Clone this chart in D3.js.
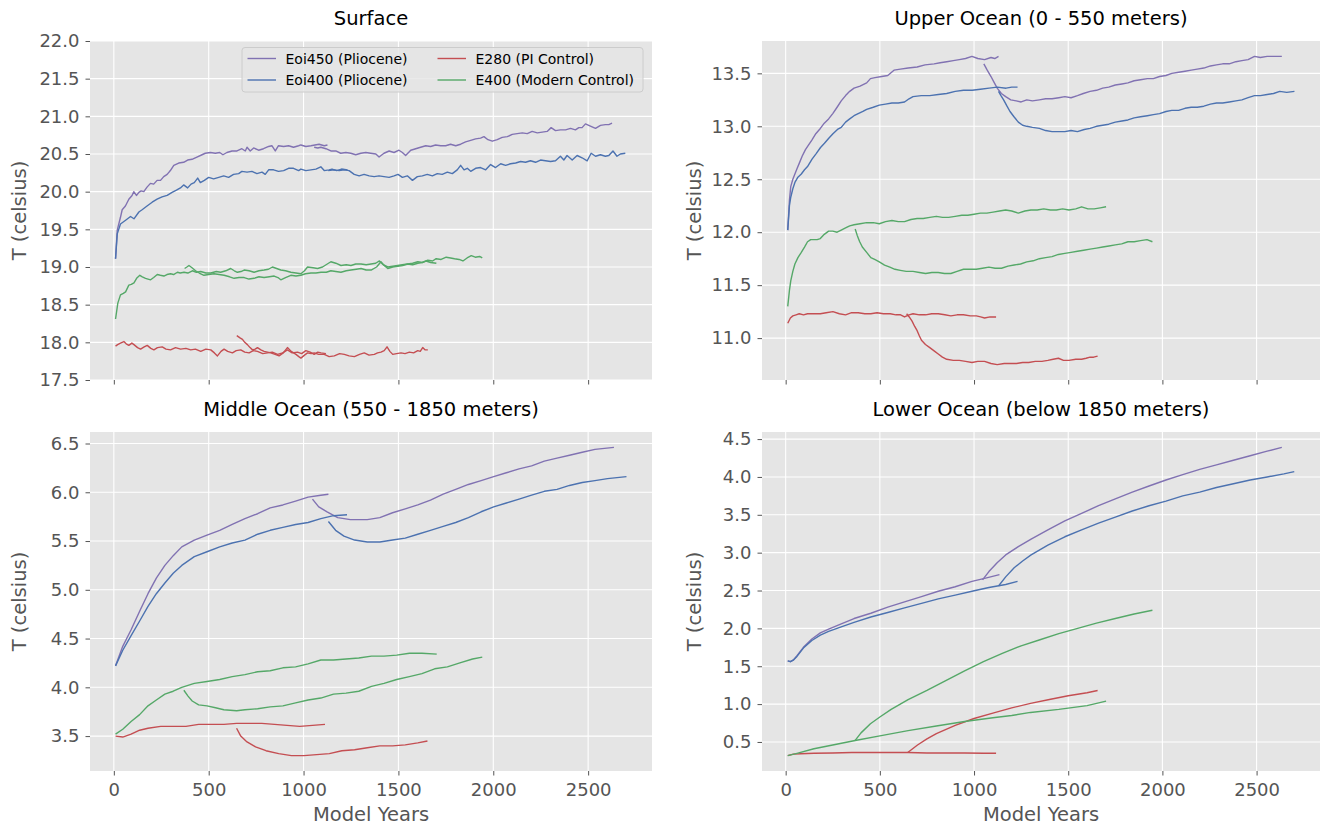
<!DOCTYPE html>
<html><head><meta charset="utf-8">
<script src="https://cdn.jsdelivr.net/npm/d3@7"></script>
<style>
body{margin:0;background:#fff;}
text{font-family:"DejaVu Sans",sans-serif;}
</style>
</head><body>
<svg id="chart" width="1325" height="827"></svg>
<script>
// ---------------- DATA ----------------
const experiments = ["Eoi450 (Pliocene)", "Eoi400 (Pliocene)", "E280 (PI Control)", "E400 (Modern Control)"];
const xTicks = [0, 500, 1000, 1500, 2000, 2500];
const surfaceTicks = [17.5, 18.0, 18.5, 19.0, 19.5, 20.0, 20.5, 21.0, 21.5, 22.0];
const upperTicks = [11.0, 11.5, 12.0, 12.5, 13.0, 13.5];
const middleTicks = [3.5, 4.0, 4.5, 5.0, 5.5, 6.0, 6.5];
const lowerTicks = [0.5, 1.0, 1.5, 2.0, 2.5, 3.0, 3.5, 4.0, 4.5];
const surfaceRange = [17.5, 22.0];

// Surface [model year, T]
const surf_Eoi450_a = [[9,19.11],[18,19.49],[35,19.66],[44,19.76],[61,19.81],[79,19.90],[96,19.95],[105,20.00],[119,19.95],[132,19.99],[144,20.01],[158,20.00],[175,20.06],[193,20.11],[210,20.10],[228,20.15],[246,20.15],[263,20.20],[281,20.23],[298,20.28],[316,20.35],[342,20.38],[368,20.39],[389,20.42],[412,20.43],[438,20.46],[465,20.49],[482,20.51],[509,20.52],[535,20.51],[558,20.52],[575,20.49],[596,20.52],[623,20.54],[649,20.54],[675,20.57],[693,20.54],[702,20.59],[719,20.54],[737,20.58],[763,20.55],[789,20.57],[816,20.60],[833,20.61],[851,20.54],[868,20.61],[895,20.60],[921,20.61],[947,20.59],[974,20.61],[986,20.62],[1012,20.60],[1039,20.61],[1060,20.62],[1082,20.63],[1109,20.61],[1126,20.62]];
const surf_Eoi450_b = [[1056,20.59],[1075,20.58],[1091,20.59],[1118,20.57],[1144,20.54],[1170,20.54],[1196,20.51],[1223,20.52],[1249,20.51],[1275,20.49],[1302,20.51],[1328,20.52],[1354,20.51],[1381,20.50],[1398,20.46],[1424,20.51],[1451,20.54],[1477,20.52],[1503,20.55],[1521,20.52],[1538,20.48],[1565,20.55],[1591,20.57],[1617,20.59],[1644,20.61],[1670,20.60],[1696,20.62],[1723,20.61],[1749,20.61],[1775,20.63],[1802,20.61],[1828,20.63],[1854,20.66],[1881,20.68],[1907,20.70],[1933,20.71],[1951,20.73],[1972,20.69],[1995,20.67],[2021,20.69],[2047,20.72],[2074,20.73],[2100,20.76],[2126,20.77],[2153,20.78],[2179,20.77],[2205,20.80],[2232,20.78],[2258,20.79],[2284,20.80],[2305,20.85],[2328,20.81],[2354,20.82],[2381,20.82],[2407,20.84],[2433,20.82],[2451,20.85],[2468,20.85],[2486,20.90],[2512,20.87],[2539,20.84],[2565,20.88],[2591,20.89],[2609,20.89],[2626,20.91]];
const surf_Eoi400_a = [[9,19.11],[18,19.44],[35,19.57],[62,19.62],[88,19.67],[106,19.64],[132,19.73],[149,19.76],[175,19.81],[202,19.86],[228,19.90],[254,19.93],[281,19.95],[307,19.99],[330,20.02],[351,20.05],[368,20.09],[389,20.05],[407,20.10],[424,20.12],[442,20.18],[456,20.12],[477,20.15],[500,20.19],[526,20.17],[553,20.19],[579,20.21],[605,20.19],[631,20.23],[658,20.24],[675,20.27],[702,20.26],[728,20.27],[754,20.24],[781,20.26],[798,20.23],[816,20.29],[842,20.29],[868,20.27],[895,20.28],[921,20.31],[947,20.31],[974,20.28],[986,20.30],[1012,20.28],[1039,20.29],[1065,20.30],[1091,20.33],[1109,20.28],[1135,20.29],[1150,20.30],[1175,20.28],[1200,20.30],[1232,20.29]];
const surf_Eoi400_b = [[1130,20.28],[1161,20.29],[1188,20.28],[1214,20.29],[1240,20.28],[1267,20.23],[1293,20.21],[1319,20.23],[1346,20.21],[1372,20.20],[1398,20.21],[1424,20.20],[1451,20.19],[1477,20.21],[1498,20.23],[1521,20.19],[1547,20.21],[1574,20.15],[1600,20.20],[1626,20.21],[1652,20.23],[1679,20.21],[1705,20.24],[1731,20.23],[1758,20.26],[1784,20.24],[1810,20.29],[1828,20.35],[1846,20.29],[1863,20.31],[1881,20.27],[1907,20.31],[1933,20.32],[1960,20.29],[1986,20.36],[2012,20.32],[2039,20.37],[2065,20.35],[2091,20.37],[2118,20.38],[2144,20.40],[2170,20.39],[2196,20.41],[2223,20.39],[2249,20.42],[2275,20.41],[2302,20.40],[2328,20.41],[2354,20.47],[2372,20.42],[2389,20.48],[2416,20.42],[2442,20.48],[2468,20.45],[2495,20.41],[2516,20.51],[2539,20.47],[2565,20.49],[2591,20.47],[2609,20.48],[2631,20.54],[2652,20.47],[2670,20.50],[2696,20.51]];
const surf_E280_a = [[9,17.95],[20,17.97],[35,17.99],[53,18.01],[65,17.98],[79,17.96],[95,17.99],[106,17.97],[125,17.93],[141,17.91],[160,17.94],[176,17.96],[195,17.92],[211,17.90],[230,17.93],[255,17.94],[275,17.91],[299,17.90],[325,17.93],[352,17.91],[380,17.92],[405,17.90],[430,17.91],[458,17.88],[485,17.91],[511,17.90],[530,17.86],[546,17.82],[565,17.88],[581,17.91],[600,17.88],[625,17.86],[645,17.89],[669,17.90],[690,17.87],[713,17.86],[735,17.89],[757,17.88],[785,17.85],[810,17.86],[835,17.87],[863,17.84],[890,17.86],[915,17.90],[940,17.86],[968,17.87],[990,17.85],[1012,17.89],[1035,17.87],[1056,17.84],[1075,17.87],[1092,17.86],[1118,17.85]];
const surf_E280_b = [[648,18.09],[665,18.06],[678,18.04],[690,18.00],[704,17.97],[718,17.93],[731,17.90],[745,17.91],[757,17.93],[775,17.90],[792,17.88],[810,17.87],[827,17.86],[850,17.84],[871,17.82],[893,17.86],[915,17.93],[935,17.88],[960,17.84],[975,17.81],[986,17.79],[1005,17.83],[1021,17.86],[1040,17.85],[1056,17.86],[1080,17.84],[1109,17.84],[1135,17.81],[1162,17.82],[1190,17.85],[1215,17.84],[1240,17.82],[1268,17.81],[1295,17.84],[1320,17.86],[1345,17.83],[1373,17.84],[1390,17.86],[1408,17.87],[1425,17.89],[1440,17.94],[1455,17.88],[1470,17.84],[1490,17.85],[1514,17.86],[1535,17.85],[1558,17.87],[1580,17.86],[1602,17.89],[1615,17.88],[1628,17.93],[1640,17.90],[1655,17.90]];
const surf_E400_a = [[9,18.31],[21,18.52],[35,18.63],[50,18.65],[62,18.67],[79,18.76],[92,18.77],[106,18.79],[120,18.85],[137,18.89],[150,18.87],[167,18.85],[180,18.84],[194,18.83],[210,18.86],[229,18.90],[245,18.89],[264,18.88],[280,18.90],[299,18.91],[315,18.90],[335,18.93],[350,18.92],[370,18.93],[390,18.92],[414,18.95],[435,18.93],[458,18.94],[485,18.92],[511,18.92],[540,18.94],[563,18.93],[590,18.95],[616,18.98],[635,18.95],[651,18.93],[670,18.94],[687,18.96],[713,18.95],[739,18.93],[765,18.95],[792,18.96],[815,18.97],[836,19.00],[858,18.98],[880,18.96],[905,18.95],[933,18.93],[960,18.92],[986,18.91],[1005,18.95],[1021,19.00],[1050,18.99],[1074,18.98],[1100,19.00],[1125,19.04],[1144,19.07],[1170,19.05],[1197,19.02],[1225,19.03],[1250,19.02],[1275,19.04],[1303,19.04],[1330,19.03],[1356,19.04],[1380,19.05],[1400,19.08],[1420,19.03],[1444,19.00],[1470,19.01],[1496,19.02],[1520,19.03],[1549,19.04],[1575,19.03],[1602,19.05],[1625,19.06],[1646,19.08],[1670,19.06],[1700,19.05]];
const surf_E400_b = [[373,18.98],[385,19.00],[396,19.02],[412,18.99],[431,18.95],[450,18.92],[475,18.89],[500,18.90],[528,18.91],[555,18.90],[581,18.89],[610,18.87],[634,18.85],[660,18.86],[687,18.86],[712,18.84],[739,18.85],[765,18.87],[792,18.86],[820,18.87],[845,18.88],[865,18.86],[880,18.83],[905,18.86],[933,18.89],[960,18.88],[986,18.89],[1010,18.91],[1039,18.92],[1065,18.92],[1092,18.93],[1120,18.93],[1144,18.95],[1170,18.94],[1197,18.93],[1225,18.95],[1250,18.96],[1278,18.97],[1303,18.98],[1330,18.96],[1356,18.96],[1385,19.00],[1408,19.07],[1425,19.02],[1444,18.98],[1470,19.00],[1496,19.01],[1522,19.02],[1549,19.04],[1575,19.05],[1602,19.07],[1628,19.06],[1655,19.09],[1680,19.08],[1699,19.11],[1725,19.10],[1752,19.13],[1775,19.12],[1796,19.11],[1820,19.10],[1840,19.08],[1862,19.12],[1884,19.15],[1905,19.13],[1928,19.14],[1942,19.12]];

// Upper ocean (0 - 550 m)
const upper_Eoi450_a = [[11,12.02],[20,12.30],[27,12.43],[38,12.50],[49,12.55],[60,12.60],[72,12.65],[88,12.72],[105,12.78],[120,12.82],[139,12.87],[160,12.93],[184,12.98],[205,13.03],[228,13.07],[250,13.12],[273,13.18],[295,13.24],[318,13.29],[340,13.33],[363,13.36],[395,13.38],[430,13.41],[450,13.45],[474,13.46],[510,13.47],[542,13.48],[575,13.53],[609,13.54],[650,13.55],[698,13.56],[740,13.58],[788,13.59],[820,13.60],[855,13.61],[890,13.62],[922,13.63],[955,13.64],[989,13.66],[1020,13.64],[1056,13.63],[1090,13.65],[1110,13.64],[1130,13.66]];
const upper_Eoi450_b = [[1052,13.59],[1070,13.53],[1090,13.47],[1105,13.42],[1123,13.36],[1145,13.31],[1168,13.28],[1195,13.25],[1224,13.24],[1250,13.23],[1280,13.25],[1310,13.24],[1347,13.25],[1380,13.26],[1414,13.26],[1450,13.27],[1482,13.28],[1515,13.27],[1549,13.29],[1580,13.31],[1616,13.33],[1650,13.34],[1683,13.36],[1715,13.37],[1750,13.39],[1785,13.40],[1817,13.41],[1850,13.43],[1884,13.44],[1920,13.45],[1952,13.45],[1985,13.47],[2019,13.48],[2050,13.50],[2086,13.51],[2120,13.52],[2153,13.53],[2185,13.54],[2220,13.55],[2255,13.57],[2287,13.58],[2320,13.59],[2355,13.59],[2390,13.61],[2422,13.62],[2455,13.63],[2489,13.66],[2520,13.65],[2556,13.66],[2595,13.66],[2634,13.66]];
const upper_Eoi400_a = [[11,12.02],[20,12.25],[27,12.33],[38,12.41],[49,12.47],[65,12.52],[83,12.55],[100,12.59],[116,12.62],[140,12.69],[161,12.74],[185,12.80],[206,12.84],[230,12.89],[251,12.93],[275,12.97],[295,12.99],[318,13.04],[340,13.07],[363,13.10],[385,13.12],[410,13.14],[430,13.16],[465,13.18],[497,13.20],[530,13.21],[564,13.22],[598,13.22],[631,13.23],[655,13.26],[676,13.28],[720,13.29],[765,13.29],[810,13.30],[855,13.31],[900,13.33],[944,13.34],[990,13.34],[1034,13.35],[1080,13.36],[1123,13.37],[1170,13.36],[1200,13.37],[1231,13.37]];
const upper_Eoi400_b = [[1130,13.33],[1143,13.29],[1157,13.25],[1175,13.19],[1191,13.14],[1212,13.09],[1235,13.04],[1258,13.01],[1280,13.00],[1310,12.99],[1347,12.98],[1380,12.96],[1414,12.95],[1450,12.95],[1482,12.95],[1515,12.96],[1549,12.95],[1585,12.97],[1616,12.98],[1650,13.00],[1683,13.01],[1715,13.02],[1750,13.04],[1785,13.05],[1817,13.06],[1850,13.08],[1884,13.09],[1920,13.10],[1952,13.11],[1985,13.12],[2019,13.14],[2050,13.15],[2086,13.15],[2120,13.17],[2153,13.18],[2185,13.18],[2220,13.19],[2255,13.21],[2287,13.22],[2320,13.22],[2355,13.23],[2390,13.24],[2422,13.25],[2455,13.27],[2489,13.29],[2520,13.29],[2556,13.30],[2590,13.31],[2623,13.33],[2660,13.32],[2701,13.33]];
const upper_E280_a = [[11,11.14],[25,11.19],[38,11.21],[55,11.22],[72,11.23],[95,11.22],[116,11.23],[150,11.23],[184,11.23],[215,11.24],[251,11.25],[285,11.23],[318,11.22],[350,11.24],[385,11.24],[420,11.23],[452,11.23],[485,11.24],[519,11.23],[555,11.23],[586,11.22],[610,11.22],[631,11.20],[655,11.22],[676,11.23],[710,11.22],[743,11.22],[775,11.23],[810,11.23],[845,11.22],[877,11.21],[910,11.22],[944,11.22],[980,11.21],[1012,11.21],[1035,11.20],[1056,11.19],[1085,11.20],[1117,11.20]];
const upper_E280_b = [[642,11.23],[656,11.20],[671,11.16],[685,11.11],[698,11.07],[710,11.02],[721,10.98],[742,10.94],[765,10.91],[788,10.88],[810,10.85],[832,10.82],[855,10.80],[890,10.79],[922,10.79],[955,10.78],[989,10.77],[1020,10.78],[1056,10.78],[1090,10.76],[1123,10.75],[1160,10.76],[1191,10.76],[1225,10.76],[1258,10.77],[1290,10.77],[1325,10.78],[1360,10.78],[1392,10.79],[1420,10.80],[1448,10.81],[1475,10.79],[1504,10.79],[1540,10.80],[1571,10.80],[1595,10.81],[1616,10.82],[1635,10.82],[1656,10.83]];
const upper_E400_a = [[11,11.30],[20,11.45],[27,11.54],[38,11.63],[49,11.70],[65,11.76],[83,11.81],[100,11.86],[116,11.91],[133,11.93],[150,11.93],[167,11.93],[184,11.94],[205,11.98],[228,12.01],[250,12.01],[273,12.00],[295,12.02],[318,12.04],[340,12.06],[363,12.07],[395,12.08],[430,12.09],[465,12.09],[497,12.08],[530,12.10],[564,12.11],[598,12.10],[631,12.10],[665,12.12],[698,12.13],[730,12.13],[765,12.14],[800,12.15],[833,12.14],[865,12.14],[900,12.15],[935,12.16],[967,12.16],[1000,12.17],[1034,12.18],[1068,12.18],[1101,12.19],[1135,12.20],[1168,12.21],[1200,12.20],[1235,12.18],[1270,12.20],[1302,12.21],[1335,12.21],[1370,12.22],[1405,12.21],[1437,12.21],[1470,12.22],[1504,12.21],[1540,12.22],[1571,12.24],[1605,12.22],[1638,12.22],[1670,12.23],[1701,12.24]];
const upper_E400_b = [[369,12.03],[380,11.97],[393,11.91],[407,11.86],[430,11.81],[452,11.76],[475,11.74],[497,11.72],[525,11.69],[553,11.67],[580,11.65],[609,11.64],[640,11.63],[676,11.63],[710,11.62],[743,11.61],[776,11.62],[810,11.62],[843,11.61],[877,11.61],[910,11.63],[944,11.65],[978,11.65],[1012,11.65],[1045,11.66],[1079,11.67],[1112,11.66],[1146,11.66],[1180,11.68],[1213,11.69],[1247,11.70],[1280,11.72],[1314,11.73],[1347,11.75],[1380,11.76],[1414,11.77],[1448,11.79],[1482,11.80],[1515,11.81],[1549,11.82],[1582,11.83],[1616,11.84],[1650,11.85],[1683,11.86],[1716,11.87],[1750,11.88],[1784,11.89],[1817,11.91],[1850,11.91],[1884,11.92],[1918,11.93],[1947,11.91]];

// Middle ocean (550 - 1850 m)
const mid_Eoi450_a = [[9,4.22],[47,4.42],[91,4.59],[136,4.78],[180,4.96],[224,5.12],[269,5.25],[313,5.35],[358,5.44],[424,5.51],[491,5.56],[558,5.61],[624,5.67],[691,5.73],[758,5.78],[824,5.84],[891,5.87],[958,5.91],[1024,5.95],[1091,5.97],[1131,5.98]];
const mid_Eoi450_b = [[1047,5.93],[1080,5.85],[1124,5.80],[1180,5.74],[1247,5.72],[1336,5.72],[1402,5.74],[1469,5.79],[1536,5.83],[1602,5.87],[1669,5.92],[1736,5.98],[1802,6.03],[1869,6.08],[1936,6.12],[2002,6.16],[2069,6.20],[2136,6.24],[2202,6.27],[2269,6.32],[2336,6.35],[2402,6.38],[2469,6.41],[2536,6.44],[2636,6.46]];
const mid_Eoi400_a = [[9,4.22],[47,4.38],[91,4.53],[136,4.68],[180,4.83],[224,4.96],[269,5.07],[313,5.17],[358,5.25],[424,5.34],[491,5.39],[558,5.44],[624,5.48],[691,5.51],[758,5.57],[824,5.61],[891,5.64],[958,5.67],[1024,5.69],[1091,5.73],[1158,5.76],[1229,5.77]];
const mid_Eoi400_b = [[1131,5.70],[1169,5.61],[1213,5.55],[1269,5.51],[1336,5.49],[1402,5.49],[1469,5.51],[1536,5.53],[1602,5.57],[1669,5.61],[1736,5.65],[1802,5.69],[1869,5.74],[1936,5.80],[2002,5.85],[2069,5.89],[2136,5.93],[2202,5.97],[2269,6.01],[2336,6.03],[2402,6.07],[2469,6.10],[2536,6.12],[2602,6.14],[2702,6.16]];
const mid_E280_a = [[9,3.50],[47,3.49],[91,3.52],[136,3.56],[180,3.58],[247,3.60],[313,3.60],[380,3.60],[447,3.62],[513,3.62],[580,3.62],[647,3.63],[713,3.63],[780,3.63],[847,3.62],[913,3.61],[980,3.60],[1047,3.61],[1113,3.62]];
const mid_E280_b = [[647,3.58],[669,3.50],[702,3.44],[747,3.39],[802,3.35],[869,3.32],[936,3.30],[1002,3.30],[1069,3.31],[1136,3.32],[1202,3.35],[1269,3.36],[1336,3.38],[1402,3.40],[1469,3.40],[1536,3.41],[1602,3.43],[1653,3.45]];
const mid_E400_a = [[9,3.52],[47,3.57],[91,3.65],[136,3.72],[180,3.81],[224,3.87],[269,3.93],[313,3.96],[358,4.00],[424,4.04],[491,4.06],[558,4.08],[624,4.11],[691,4.13],[758,4.16],[824,4.17],[891,4.20],[958,4.21],[1024,4.24],[1091,4.28],[1158,4.28],[1224,4.29],[1291,4.30],[1358,4.32],[1424,4.32],[1491,4.33],[1558,4.35],[1624,4.35],[1702,4.34]];
const mid_E400_b = [[369,3.97],[391,3.91],[413,3.86],[447,3.82],[491,3.81],[536,3.79],[580,3.77],[647,3.76],[691,3.77],[758,3.78],[824,3.80],[891,3.81],[958,3.84],[1024,3.87],[1091,3.89],[1158,3.93],[1224,3.94],[1291,3.96],[1358,4.01],[1424,4.04],[1491,4.08],[1558,4.11],[1624,4.14],[1691,4.19],[1758,4.21],[1824,4.25],[1891,4.29],[1942,4.31]];

// Lower ocean (below 1850 m)
const low_Eoi450_a = [[11,1.57],[25,1.56],[40,1.58],[60,1.64],[94,1.75],[139,1.86],[184,1.94],[228,1.99],[295,2.06],[363,2.13],[452,2.20],[542,2.28],[631,2.35],[721,2.42],[810,2.49],[900,2.55],[989,2.62],[1056,2.66],[1135,2.71]];
const low_Eoi450_b = [[1045,2.64],[1079,2.75],[1124,2.87],[1168,2.97],[1235,3.08],[1303,3.18],[1392,3.30],[1482,3.42],[1571,3.52],[1661,3.62],[1750,3.71],[1840,3.80],[1929,3.88],[2019,3.96],[2108,4.03],[2198,4.10],[2287,4.16],[2377,4.22],[2466,4.28],[2556,4.34],[2634,4.39]];
const low_Eoi400_a = [[11,1.57],[25,1.56],[40,1.58],[60,1.63],[94,1.74],[139,1.84],[184,1.91],[228,1.96],[295,2.02],[363,2.08],[452,2.15],[542,2.21],[631,2.27],[721,2.33],[810,2.39],[900,2.44],[989,2.49],[1079,2.54],[1168,2.58],[1231,2.62]];
const low_Eoi400_b = [[1130,2.56],[1168,2.68],[1213,2.80],[1258,2.89],[1303,2.97],[1392,3.10],[1482,3.21],[1571,3.30],[1661,3.39],[1750,3.47],[1840,3.55],[1929,3.62],[2019,3.68],[2108,3.75],[2198,3.80],[2287,3.86],[2377,3.91],[2466,3.96],[2556,4.00],[2645,4.04],[2700,4.07]];
const low_E280_a = [[11,0.32],[40,0.34],[80,0.345],[150,0.35],[250,0.355],[350,0.36],[450,0.36],[550,0.36],[650,0.36],[750,0.355],[850,0.355],[950,0.355],[1050,0.35],[1117,0.35]];
const low_E280_b = [[648,0.36],[700,0.46],[750,0.54],[800,0.61],[900,0.72],[1000,0.81],[1100,0.88],[1200,0.95],[1300,1.01],[1400,1.06],[1500,1.11],[1600,1.15],[1656,1.18]];
const low_E400_a = [[11,0.32],[60,0.35],[150,0.41],[250,0.46],[369,0.52],[500,0.58],[650,0.65],[800,0.71],[950,0.77],[1100,0.82],[1200,0.85],[1300,0.89],[1450,0.93],[1600,0.98],[1701,1.04]];
const low_E400_b = [[369,0.52],[400,0.62],[450,0.74],[500,0.83],[560,0.93],[650,1.06],[750,1.18],[850,1.31],[950,1.44],[1050,1.56],[1150,1.67],[1250,1.77],[1350,1.85],[1450,1.93],[1550,2.00],[1650,2.07],[1750,2.13],[1850,2.19],[1947,2.24]];

// ---------------- LAYOUT / STYLE ----------------
const colors = ["#8172B2", "#4C72B0", "#C44E52", "#55A868"];
const W = 1325, H = 827;
const svg = d3.select("#chart");
svg.append("rect").attr("width", W).attr("height", H).attr("fill", "#ffffff");

const panels = [
  {title: "Surface", ticks: surfaceTicks, fixed: surfaceRange, left: 90, right: 652, top: 41, bottom: 380, xlab: false, ylabX: 19,
   series: [[surf_Eoi450_a, 0], [surf_Eoi450_b, 0], [surf_Eoi400_a, 1], [surf_Eoi400_b, 1], [surf_E280_a, 2], [surf_E280_b, 2], [surf_E400_a, 3], [surf_E400_b, 3]], legend: true},
  {title: "Upper Ocean (0 - 550 meters)", ticks: upperTicks, left: 762, right: 1320, top: 41, bottom: 380, xlab: false, ylabX: 694,
   series: [[upper_Eoi450_a, 0], [upper_Eoi450_b, 0], [upper_Eoi400_a, 1], [upper_Eoi400_b, 1], [upper_E280_a, 2], [upper_E280_b, 2], [upper_E400_a, 3], [upper_E400_b, 3]]},
  {title: "Middle Ocean (550 - 1850 meters)", ticks: middleTicks, left: 90, right: 652, top: 432, bottom: 771, xlab: true, ylabX: 19,
   series: [[mid_Eoi450_a, 0], [mid_Eoi450_b, 0], [mid_Eoi400_a, 1], [mid_Eoi400_b, 1], [mid_E280_a, 2], [mid_E280_b, 2], [mid_E400_a, 3], [mid_E400_b, 3]]},
  {title: "Lower Ocean (below 1850 meters)", ticks: lowerTicks, left: 762, right: 1320, top: 432, bottom: 771, xlab: true, ylabX: 694,
   series: [[low_Eoi450_a, 0], [low_Eoi450_b, 0], [low_Eoi400_a, 1], [low_Eoi400_b, 1], [low_E280_a, 2], [low_E280_b, 2], [low_E400_a, 3], [low_E400_b, 3]]}
];

// shared x domain (matplotlib-like 5% margins)
const allSeries = panels.flatMap(p => p.series.map(s => s[0]));
const xMin = d3.min(allSeries, s => d3.min(s, d => d[0]));
const xMax = d3.max(allSeries, s => d3.max(s, d => d[0]));
const xPad = (xMax - xMin) * 0.05;

panels.forEach(p => {
  const g = svg.append("g");
  const x = d3.scaleLinear().domain([xMin - xPad, xMax + xPad]).range([p.left, p.right]);
  let yDom;
  if (p.fixed) yDom = p.fixed;
  else {
    const lo = d3.min(p.series, s => d3.min(s[0], d => d[1]));
    const hi = d3.max(p.series, s => d3.max(s[0], d => d[1]));
    const pad = (hi - lo) * 0.05;
    yDom = [lo - pad, hi + pad];
  }
  const y = d3.scaleLinear().domain(yDom).range([p.bottom, p.top]);

  // background
  g.append("rect").attr("x", p.left).attr("y", p.top)
    .attr("width", p.right - p.left).attr("height", p.bottom - p.top).attr("fill", "#E5E5E5");

  // grid
  g.append("g").selectAll("line").data(xTicks).join("line")
    .attr("x1", d => x(d)).attr("x2", d => x(d)).attr("y1", p.top).attr("y2", p.bottom)
    .attr("stroke", "#ffffff").attr("stroke-width", 1.1);
  g.append("g").selectAll("line").data(p.ticks).join("line")
    .attr("x1", p.left).attr("x2", p.right).attr("y1", d => y(d)).attr("y2", d => y(d))
    .attr("stroke", "#ffffff").attr("stroke-width", 1.1);

  // axes
  const xAxis = d3.axisBottom(x).tickValues(xTicks).tickSizeInner(4.5).tickSizeOuter(0).tickPadding(7.5)
    .tickFormat(p.xlab ? d3.format("d") : () => "");
  const xg = g.append("g").attr("transform", `translate(0,${p.bottom})`).call(xAxis);
  const yAxis = d3.axisLeft(y).tickValues(p.ticks).tickSizeInner(4.5).tickSizeOuter(0).tickPadding(6)
    .tickFormat(d3.format(".1f"));
  const yg = g.append("g").attr("transform", `translate(${p.left},0)`).call(yAxis);
  [xg, yg].forEach(a => {
    a.select(".domain").remove();
    a.selectAll(".tick line").attr("stroke", "#555555").attr("stroke-width", 1);
    a.selectAll(".tick text").attr("fill", "#555555").style("font-size", "18px")
      .style("font-family", "'DejaVu Sans', sans-serif");
  });

  // lines
  const line = d3.line().x(d => x(d[0])).y(d => y(d[1]));
  const clipId = "clip" + p.left + "_" + p.top;
  svg.append("clipPath").attr("id", clipId).append("rect")
    .attr("x", p.left).attr("y", p.top).attr("width", p.right - p.left).attr("height", p.bottom - p.top);
  const lg = g.append("g").attr("clip-path", `url(#${clipId})`);
  p.series.forEach(([data, ci]) => {
    lg.append("path").datum(data).attr("d", line).attr("fill", "none")
      .attr("stroke", colors[ci]).attr("stroke-width", 1.4).attr("stroke-linejoin", "round");
  });

  // title
  g.append("text").attr("x", (p.left + p.right) / 2).attr("y", p.top - 16)
    .attr("text-anchor", "middle").attr("fill", "#000000").style("font-size", "19.5px").text(p.title);

  // y label
  const cy = (p.top + p.bottom) / 2;
  g.append("text").attr("transform", `translate(${p.ylabX},${cy}) rotate(-90)`)
    .attr("text-anchor", "middle").attr("dominant-baseline", "central")
    .attr("fill", "#555555").style("font-size", "19.5px").text("T (celsius)");

  // x label
  if (p.xlab) {
    g.append("text").attr("x", (p.left + p.right) / 2).attr("y", p.bottom + 50)
      .attr("text-anchor", "middle").attr("fill", "#555555").style("font-size", "19.5px").text("Model Years");
  }

  // legend
  if (p.legend) {
    const lx = p.right - 410, ly = p.top + 6.5;
    const leg = g.append("g");
    leg.append("rect").attr("x", lx).attr("y", ly).attr("width", 401).attr("height", 44.5)
      .attr("rx", 3).attr("fill", "rgba(229,229,229,0.8)").attr("stroke", "#CCCCCC").attr("stroke-width", 1);
    [0, 1, 2, 3].forEach((ei, k) => {
      const col = Math.floor(k / 2), row = k % 2;
      const hx = lx + 5.5 + col * 190;
      const hy = ly + 11 + row * 21.5;
      leg.append("line").attr("x1", hx).attr("x2", hx + 28.5).attr("y1", hy).attr("y2", hy)
        .attr("stroke", colors[ei]).attr("stroke-width", 1.4);
      leg.append("text").attr("x", hx + 38).attr("y", hy).attr("dominant-baseline", "central")
        .attr("fill", "#000000").style("font-size", "14px").text(experiments[ei]);
    });
  }
});
</script>
</body></html>
